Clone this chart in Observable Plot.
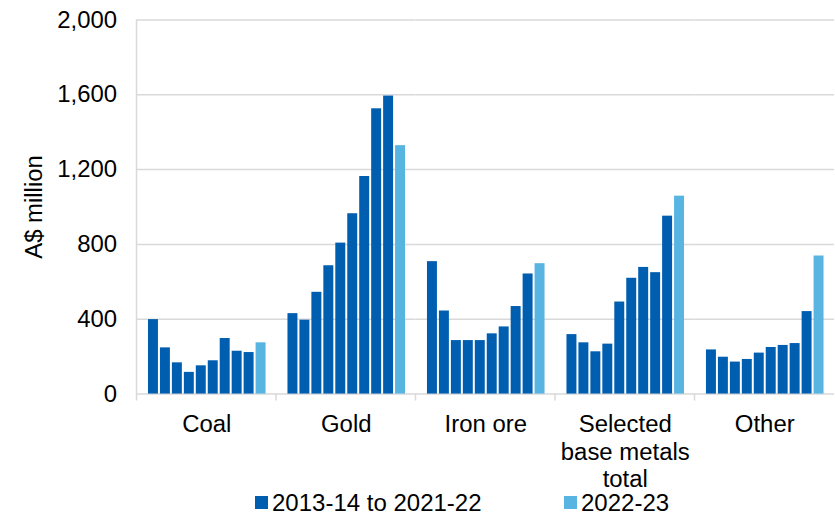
<!DOCTYPE html>
<html><head><meta charset="utf-8">
<script src="https://cdn.jsdelivr.net/npm/d3@7"></script>
<script src="https://cdn.jsdelivr.net/npm/@observablehq/plot@0.6"></script>
<style>
body{margin:0;overflow:hidden;background:#fff;font-family:"Liberation Sans",Arial,sans-serif;}
#chart svg{display:block;}
#legend{position:relative;height:22px;width:835px;font-size:24px;line-height:22px;color:#000;}
#legend .sw{position:absolute;width:13px;height:13px;top:4px;}
#legend .lb{position:absolute;top:0px;white-space:nowrap;}
</style></head><body>
<div id="chart"></div>
<div id="legend"></div>
<script>
const categories = ["Coal", "Gold", "Iron ore", "Selected\nbase metals\ntotal", "Other"];
const years = ["2013-14","2014-15","2015-16","2016-17","2017-18","2018-19","2019-20","2020-21","2021-22","2022-23"];
const periods = ["2013-14 to 2021-22", "2022-23"];
const colors = ["#005EB0", "#58B4E0"];
const coal = [398, 247, 167, 116, 151, 178, 297, 229, 222, 274];
const gold = [430, 395, 544, 686, 807, 964, 1163, 1525, 1593, 1328];
const ironOre = [708, 444, 286, 286, 286, 322, 359, 468, 642, 697];
const baseMetals = [318, 274, 226, 267, 492, 619, 677, 649, 951, 1058];
const other = [236, 197, 171, 185, 219, 249, 260, 270, 441, 738];
const yTicks = [0, 400, 800, 1200, 1600, 2000];

const series = [coal, gold, ironOre, baseMetals, other];
const rows = categories.flatMap((c, i) => series[i].map((v, j) => ({
  category: c, year: years[j], value: v, period: j < 9 ? periods[0] : periods[1]
})));

const font = "Liberation Sans, Arial, sans-serif";
const chart = Plot.plot({
  width: 838, height: 494,
  marginLeft: 136.5, marginRight: 0, marginTop: 19.5, marginBottom: 99,
  style: {fontFamily: font, fontSize: "24px", color: "#000", background: "#fff"},
  fx: {domain: categories, padding: 0, label: null},
  x: {domain: years, paddingInner: 0.2, paddingOuter: 0.93, axis: null},
  y: {domain: [0, 2000]},
  color: {domain: periods, range: colors},
  marks: [
    Plot.gridY(yTicks, {stroke: "#d9d9d9", strokeOpacity: 1, strokeWidth: 1.5}),
    Plot.barY(rows, {fx: "category", x: "year", y: "value", fill: "period"}),
    Plot.axisY(yTicks, {tickSize: 0, tickPadding: 20, tickFormat: d3.format(","),
      label: "A$ million", labelAnchor: "center", labelArrow: "none", labelOffset: 112, fontSize: 24}),
    Plot.axisFx({anchor: "bottom", tickSize: 0, tickPadding: 19, lineHeight: 1.146, label: null, fontSize: 24})
  ]
});
document.getElementById("chart").appendChild(chart);

// axis line and category separator ticks
const fx = chart.scale("fx"), y = chart.scale("y");
const svg = d3.select(chart);
const y0 = y.apply(0), yTop = y.apply(2000);
const g = svg.append("g").attr("stroke", "#d9d9d9").attr("stroke-width", 1.5);
const bounds = categories.map(c => fx.apply(c));
g.append("line").attr("x1", bounds[0]).attr("x2", bounds[0]).attr("y1", yTop).attr("y2", y0 + 7);
bounds.slice(1).forEach(x => g.append("line").attr("x1", x).attr("x2", x).attr("y1", y0).attr("y2", y0 + 7));

// legend
const legend = d3.select("#legend");
const pos = [[255, 272], [564, 581]];
periods.forEach((p, i) => {
  legend.append("div").attr("class", "sw").style("left", pos[i][0] + "px").style("background", colors[i]);
  legend.append("div").attr("class", "lb").style("left", pos[i][1] + "px").text(p);
});
</script>
</body></html>
